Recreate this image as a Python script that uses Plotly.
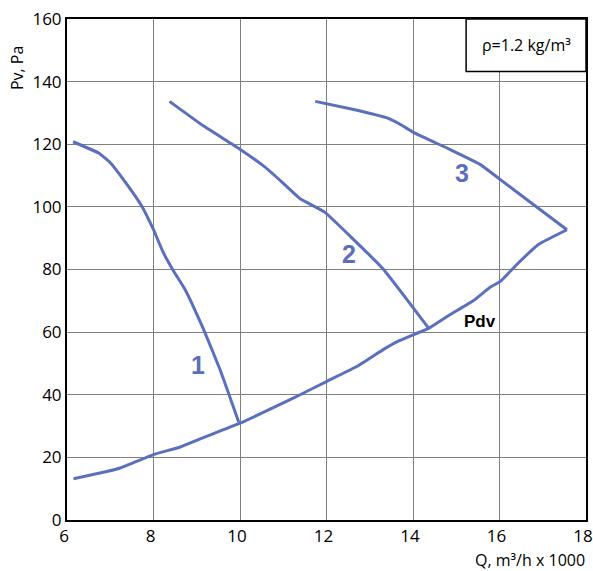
import plotly.graph_objects as go

# Curve data (Q in m3/h x 1000, Pv in Pa)
c1_q = [6.14, 6.73, 7.0, 7.39, 7.73, 8.0, 8.23, 8.46, 8.70, 8.90, 9.16, 9.54, 9.97]
c1_p = [120.8, 117.2, 114.1, 107.1, 100.2, 92.7, 85.3, 79.6, 74.3, 68.8, 60.8, 48.0, 31.3]

c2_q = [8.37, 9.16, 9.99, 10.55, 10.86, 11.39, 11.95, 12.55, 13.32, 13.86, 14.36]
c2_p = [133.7, 125.8, 118.5, 113.0, 109.3, 102.6, 98.4, 90.6, 80.0, 70.4, 61.3]

c3_q = [11.74, 12.63, 13.40, 13.71, 14.01, 14.86, 15.56, 16.02, 16.79, 17.56]
c3_p = [133.7, 131.1, 128.4, 126.3, 123.8, 118.3, 113.5, 108.7, 100.7, 92.7]

pdv_q = [6.15, 6.92, 7.23, 8.0, 8.62, 9.08, 10.0, 11.0, 11.39, 12.01, 12.71, 13.32, 13.67, 14.36, 14.86, 15.40, 15.79, 16.02, 16.40, 16.90, 17.56]
pdv_p = [13.2, 15.5, 16.6, 20.9, 23.3, 25.9, 30.9, 37.4, 40.0, 44.3, 49.1, 54.5, 57.2, 61.2, 65.6, 70.1, 74.4, 76.2, 81.6, 88.0, 92.7]

labels = ["1", "2", "3"]
label_q = [9.04, 12.53, 15.13]
label_p = [49.6, 84.8, 110.9]

x_ticks = [6, 8, 10, 12, 14, 16, 18]
y_ticks = [0, 20, 40, 60, 80, 100, 120, 140, 160]

BLUE = "#5b6fbd"
FONT = "Open Sans"

fig = go.Figure()
for q, p in [(c1_q, c1_p), (c2_q, c2_p), (c3_q, c3_p), (pdv_q, pdv_p)]:
    fig.add_trace(go.Scatter(x=q, y=p, mode="lines",
                             line=dict(color=BLUE, width=3, shape="spline", smoothing=0.35),
                             showlegend=False, hoverinfo="skip"))

for t, q, p in zip(labels, label_q, label_p):
    fig.add_annotation(x=q, y=p, text="<b>" + t + "</b>", showarrow=False,
                       font=dict(family="Liberation Sans", size=25, color=BLUE))

fig.add_annotation(x=15.56, y=63.5, text="<b>Pdv</b>", showarrow=False,
                   font=dict(family="Liberation Sans", size=17, color="black"))

# rho box
fig.add_shape(type="rect", xref="paper", yref="paper", x0=0.769, x1=1.0, y0=0.895, y1=1.0,
              line=dict(color="black", width=1.5), fillcolor="white", layer="above")
fig.add_annotation(xref="paper", yref="paper", x=0.8845, y=0.948, text="ρ=1.2 kg/m³",
                   showarrow=False, xanchor="center", yanchor="middle",
                   font=dict(family=FONT, size=16, color="black"))

# axis titles
fig.add_annotation(xref="paper", yref="paper", x=1.0, y=0, yshift=-40, xanchor="right", yanchor="middle",
                   text="Q, m³/h x 1000", showarrow=False, borderpad=0,
                   font=dict(family=FONT, size=16, color="black"))
fig.add_annotation(xref="paper", yref="paper", x=0, xshift=-50, y=0.902, textangle=-90,
                   xanchor="center", yanchor="middle", text="Pv, Pa", showarrow=False,
                   font=dict(family=FONT, size=16, color="black"))

fig.update_xaxes(range=[6, 18], tickvals=x_ticks, showgrid=True, gridcolor="#808080", gridwidth=1,
                 showline=True, linecolor="black", linewidth=2, mirror=True, zeroline=False,
                 ticks="", ticklabelshift=-3, ticklabeloverflow="allow",
                 tickfont=dict(family=FONT, size=17, color="black"))
fig.update_yaxes(range=[0, 160], tickvals=y_ticks, showgrid=True, gridcolor="#808080", gridwidth=1,
                 showline=True, linecolor="black", linewidth=2, mirror=True, zeroline=False,
                 ticks="", ticklabeloverflow="allow",
                 tickfont=dict(family=FONT, size=17, color="black"))

fig.update_layout(width=593, height=571, margin=dict(l=67, r=7, t=19, b=51, autoexpand=False),
                  plot_bgcolor="white", paper_bgcolor="white")

fig.write_html("out.html", config={"displayModeBar": False},
               post_script="document.body.style.margin='0';")
